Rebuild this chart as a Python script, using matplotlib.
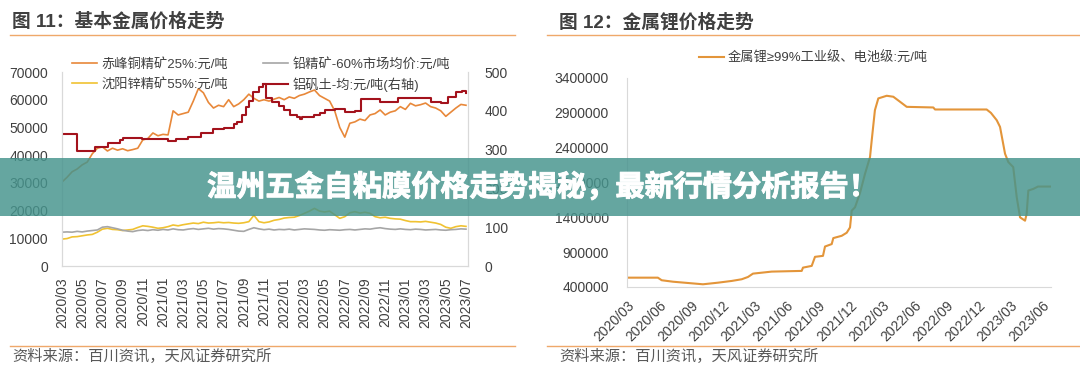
import numpy as np
import matplotlib
matplotlib.use('Agg')
import matplotlib.pyplot as plt
from matplotlib.patches import Rectangle
from matplotlib.lines import Line2D
from matplotlib.ticker import FuncFormatter
import matplotlib.patheffects as pe

plt.rcParams['font.family'] = ['Liberation Sans', 'Noto Sans CJK SC', 'DejaVu Sans']

# ---------------- data ----------------
# Figure 11: months since 2020/03, half-month steps
left_tick_labels = ['2020/03', '2020/05', '2020/07', '2020/09', '2020/11', '2021/01', '2021/03',
                    '2021/05', '2021/07', '2021/09', '2021/11', '2022/01', '2022/03', '2022/05',
                    '2022/07', '2022/09', '2022/11', '2023/01', '2023/03', '2023/05', '2023/07']
half_month = np.arange(0, 40.5, 0.5)

copper = [30300, 32000, 34000, 35000, 36500, 37500, 40500, 42500, 43000, 41500,
          42500, 41800, 42300, 41600, 42000, 42500, 45500, 46000, 48000, 47000,
          47500, 47300, 56000, 54500, 55000, 55500, 59500, 64000, 62500, 59000,
          57000, 58000, 57500, 60000, 57500, 58500, 60000, 62000, 60500, 59500,
          60000, 59500, 60200, 60800, 60000, 61000, 60500, 61500, 62000, 62800,
          63500, 61500, 60500, 59500, 56000, 50000, 46500, 51500, 52000, 53000,
          52500, 54500, 55000, 56300, 54500, 55500, 56000, 57500, 56500, 58700,
          57800, 58200, 58800, 57500, 57000, 56000, 54000, 55500, 57000, 58300, 58000]

zinc = [9700, 9900, 10500, 10600, 10900, 11200, 11400, 12200, 13300, 13600,
        13200, 13100, 12800, 13000, 13200, 13900, 14500, 14300, 14000, 13600,
        13800, 14200, 14800, 14500, 14900, 15200, 15500, 15300, 15800, 15500,
        15600, 15800, 15600, 15700, 15500, 15400, 15600, 16000, 18300, 16000,
        15600, 15900, 16500, 16800, 17300, 17500, 17600, 18200, 19000, 19800,
        20800, 19800, 19500, 19800, 18500, 17200, 17800, 19200, 19600, 19100,
        19400, 19000, 17800, 17400, 17600, 17200, 17000, 16900, 16400, 16000,
        16000, 15900, 16100, 15800, 15500, 15000, 14000, 13600, 14200, 14500, 14300]

lead = [12200, 12300, 12200, 12500, 12300, 12600, 12800, 13000, 14000, 14200,
        13800, 13400, 12900, 12600, 12400, 12800, 13000, 12800, 13100, 12900,
        13200, 13000, 13400, 13100, 13000, 13300, 13500, 13200, 13400, 13600,
        13300, 13500, 13400, 13200, 12900, 12600, 12500, 13200, 13800, 13400,
        13100, 13300, 13000, 13200, 13100, 13300, 13000, 13200, 13400, 13300,
        13200, 13000, 12900, 13100, 13000, 12900, 13100, 13200, 13000, 13200,
        13400, 13300, 13600, 13800, 13500, 13300, 13200, 13400, 13200, 13100,
        13300, 13200, 13000, 13100, 13200, 13000, 12900, 13100, 13200, 13400, 13300]

baux_month = [0, 1.45, 3.3, 4.55, 5.75, 6.0, 7.9, 10.5, 11.3, 12.5, 13.8, 15.0, 16.0,
              17.0, 17.3, 17.8, 18.2, 18.5, 18.9, 19.5, 19.9, 20.2, 20.8, 21.5, 22.0,
              22.6, 23.3, 23.6, 23.8, 25.0, 25.5, 26.0, 27.0, 28.0, 29.0, 29.6, 31.5,
              33.3, 36.5, 37.5, 38.2, 39.0, 39.6, 40.0]
bauxite = [340, 297, 306, 316, 325, 329, 327, 322, 327, 332, 342, 352, 355,
           365, 372, 389, 410, 425, 449, 462, 469, 432, 423, 412, 402,
           389, 385, 378, 385, 389, 395, 402, 404, 398, 400, 430, 423,
           432, 423, 419, 436, 449, 452, 445]

# Figure 12: lithium metal, months since 2020/03
right_tick_labels = ['2020/03', '2020/06', '2020/09', '2020/12', '2021/03', '2021/06', '2021/09',
                     '2021/12', '2022/03', '2022/06', '2022/09', '2022/12', '2023/03', '2023/06']
li_month = [0, 2.9, 3.26, 4.32, 5.92, 7.14, 8.55, 9.84, 10.78, 11.37, 11.84, 13.6, 16.42,
            16.54, 17.36, 17.67, 18.42, 18.61, 19.24, 19.39, 20.18, 20.65, 20.96, 21.12,
            21.43, 21.9, 22.37, 22.84, 23.0, 23.3, 23.62, 24.41, 25.03, 25.66, 26.29,
            28.79, 28.95, 33.8, 34.2, 34.75, 35.06, 35.53, 35.84, 36.3, 36.63, 36.94,
            37.41, 37.56, 37.72, 38.19, 38.63, 39.76]
lithium = [534000, 534000, 497000, 476000, 455000, 439000, 462000, 487000, 511000, 544000,
           592000, 621000, 631000, 678000, 703000, 833000, 847000, 981000, 1016000, 1102000,
           1135000, 1179000, 1255000, 1496000, 1544000, 1750000, 2025000, 2265000, 2506000,
           2938000, 3107000, 3145000, 3131000, 3059000, 2986000, 2977000, 2948000, 2948000,
           2900000, 2794000, 2698000, 2313000, 2193000, 2121000, 1688000, 1400000, 1352000,
           1448000, 1785000, 1808000, 1842000, 1842000]

# ---------------- figure ----------------
W, H = 1080, 374
fig = plt.figure(figsize=(W / 100, H / 100), dpi=100)


def fx(px):
    return px / W


def fy(py):
    return 1 - py / H


TXT = '#404040'
SPINE = '#D9D9D9'
SEP = '#EFA86A'

# titles + separators
fig.text(fx(12), fy(22), '图 11：基本金属价格走势', fontsize=13.5, fontweight='bold', color=TXT, va='center')
fig.text(fx(559), fy(22), '图 12：金属锂价格走势', fontsize=13.5, fontweight='bold', color=TXT, va='center')
for x0, x1 in [(10, 515), (547, 1080)]:
    fig.add_artist(Line2D([fx(x0), fx(x1)], [fy(35), fy(35)], color=SEP, lw=1.0, transform=fig.transFigure))
    fig.add_artist(Line2D([fx(x0), fx(x1)], [fy(346), fy(346)], color=SEP, lw=1.0, transform=fig.transFigure))
fig.text(fx(12), fy(356), '资料来源：百川资讯，天风证券研究所', fontsize=11, color='#595959', va='center')
fig.text(fx(559), fy(356), '资料来源：百川资讯，天风证券研究所', fontsize=11, color='#595959', va='center')

# ---- left chart ----
axL = fig.add_axes([fx(62), fy(266), fx(468) - fx(62), fy(72) - fy(266)])
axR = axL.twinx()
l1, = axL.plot(half_month, copper, color='#E8883A', lw=1.2, label='赤峰铜精矿25%:元/吨')
l2, = axL.plot(half_month, zinc, color='#F0C232', lw=1.2, label='沈阳锌精矿55%:元/吨')
l3, = axL.plot(half_month, lead, color='#A6A6A6', lw=1.2, label='铅精矿-60%市场均价:元/吨')
l4, = axR.plot(baux_month, bauxite, color='#A3121C', lw=1.5, drawstyle='steps-post', label='铝矾土-均:元/吨(右轴)')
axL.set_xlim(0, 40.2)
axL.set_ylim(0, 70000)
axR.set_ylim(0, 500)
axL.set_yticks(np.arange(0, 70001, 10000))
axR.set_yticks(np.arange(0, 501, 100))
axL.set_xticks(np.arange(0, 41, 2))
axL.set_xticklabels(left_tick_labels, rotation=90)
for a in (axL, axR):
    for s in a.spines.values():
        s.set_color(SPINE)
    a.spines['top'].set_visible(False)
    a.tick_params(length=0, labelsize=10, colors=TXT)
axL.tick_params(axis='y', pad=10)
axL.tick_params(axis='x', pad=8)
axR.tick_params(axis='y', pad=12)
fig.legend(handles=[l1, l2, l3, l4], ncol=2, loc='upper left',
           bbox_to_anchor=(fx(72), fy(58)), frameon=False, fontsize=9.5,
           handlelength=1.9, handletextpad=0.35, columnspacing=2.6, labelspacing=0.5,
           borderpad=0, borderaxespad=0, labelcolor=TXT)

# ---- right chart ----
ax2 = fig.add_axes([fx(627), fy(287), fx(1051) - fx(627), fy(78) - fy(287)])
l5, = ax2.plot(li_month, lithium, color='#E3953A', lw=1.5, label='金属锂≥99%工业级、电池级:元/吨')
ax2.set_xlim(0, 39.85)
ax2.set_ylim(400000, 3400000)
ax2.set_yticks(np.arange(400000, 3400001, 500000))
ax2.yaxis.set_major_formatter(FuncFormatter(lambda v, p: f'{int(round(v))}'))
ax2.set_xticks(np.arange(0, 40, 3))
ax2.set_xticklabels(right_tick_labels, rotation=45, ha='right', rotation_mode='anchor')
for s in ax2.spines.values():
    s.set_color(SPINE)
ax2.spines['top'].set_visible(False)
ax2.spines['right'].set_visible(False)
ax2.tick_params(length=0, labelsize=10, colors=TXT)
ax2.tick_params(axis='y', pad=13)
ax2.tick_params(axis='x', pad=8)
fig.legend(handles=[l5], loc='center left', bbox_to_anchor=(fx(699), fy(58)), frameon=False,
           fontsize=9.5, handlelength=1.9, handletextpad=0.3, borderpad=0, borderaxespad=0,
           labelcolor=TXT)

# ---- banner overlay ----
fig.add_artist(Rectangle((0, fy(216)), 1, (216 - 158) / H, transform=fig.transFigure,
                         facecolor=(70 / 255, 148 / 255, 141 / 255), alpha=0.83,
                         edgecolor='none', zorder=10))
fig.text(fx(542), fy(187), '温州五金自粘膜价格走势揭秘，最新行情分析报告！', color='white', fontsize=21,
         fontweight='heavy', family=['Noto Sans CJK SC', 'DejaVu Sans'], ha='center', va='center', zorder=11,
         path_effects=[pe.withStroke(linewidth=0.7, foreground='white')])

fig.savefig('out.png', dpi=100)
